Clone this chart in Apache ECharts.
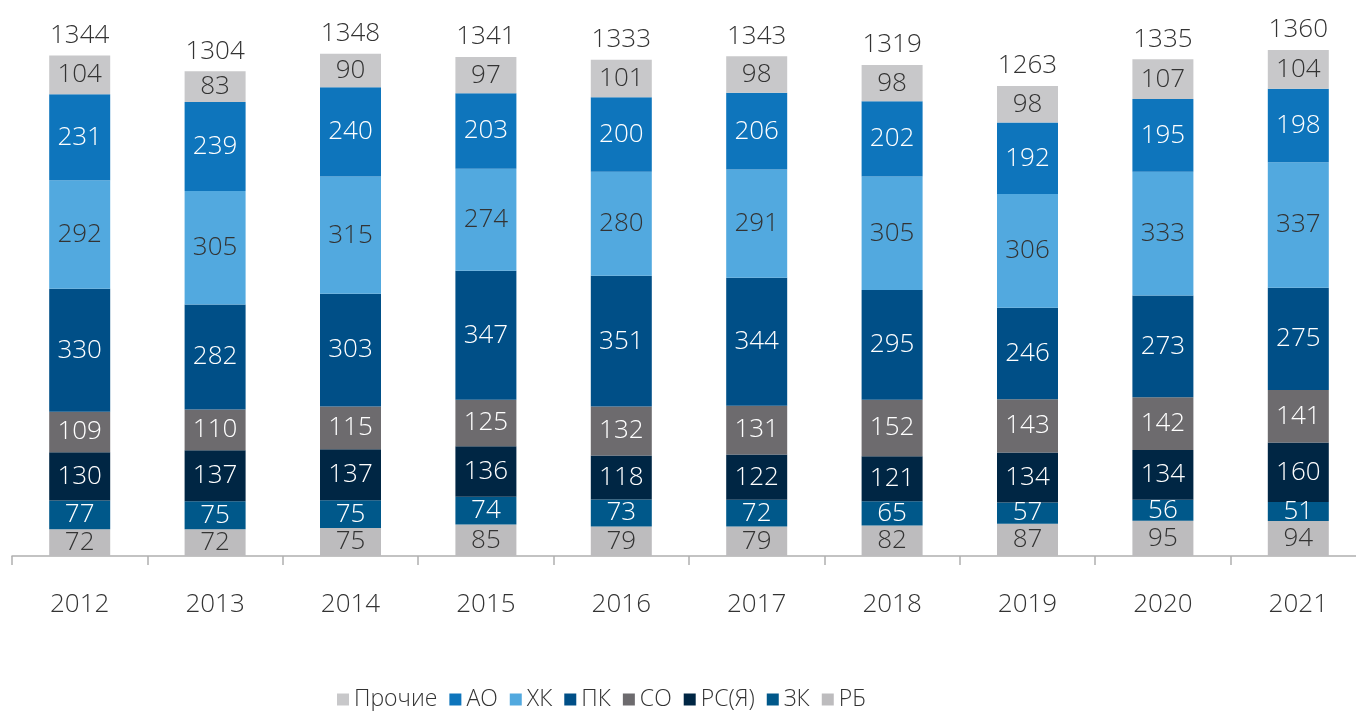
<!DOCTYPE html>
<html>
<head>
<meta charset="utf-8">
<script src="https://cdn.jsdelivr.net/npm/echarts@6/dist/echarts.min.js"></script>
<style>
  html, body { margin: 0; padding: 0; background: #fff; }
  #chart { width: 1356px; height: 711px; }
</style>
</head>
<body>
<div id="chart"></div>
<script>
const years = ["2012", "2013", "2014", "2015", "2016", "2017", "2018", "2019", "2020", "2021"];
const rb = [72, 72, 75, 85, 79, 79, 82, 87, 95, 94];
const zk = [77, 75, 75, 74, 73, 72, 65, 57, 56, 51];
const rsYa = [130, 137, 137, 136, 118, 122, 121, 134, 134, 160];
const so = [109, 110, 115, 125, 132, 131, 152, 143, 142, 141];
const pk = [330, 282, 303, 347, 351, 344, 295, 246, 273, 275];
const hk = [292, 305, 315, 274, 280, 291, 305, 306, 333, 337];
const ao = [231, 239, 240, 203, 200, 206, 202, 192, 195, 198];
const other = [104, 83, 90, 97, 101, 98, 98, 98, 107, 104];
const totals = [1344, 1304, 1348, 1341, 1333, 1343, 1319, 1263, 1335, 1360];

const font = "'Open Sans', 'Noto Sans', sans-serif";

// bottom to top
const seriesDefs = [
  { name: "РБ", data: rb, color: "#bdbcbe", text: "#333333" },
  { name: "ЗК", data: zk, color: "#00588a", text: "#ffffff" },
  { name: "РС(Я)", data: rsYa, color: "#002644", text: "#ffffff" },
  { name: "СО", data: so, color: "#6d6b6e", text: "#ffffff" },
  { name: "ПК", data: pk, color: "#004f87", text: "#ffffff" },
  { name: "ХК", data: hk, color: "#52a9df", text: "#333333" },
  { name: "АО", data: ao, color: "#0e75bc", text: "#ffffff" },
  { name: "Прочие", data: other, color: "#c8c8ca", text: "#333333" }
];

const series = seriesDefs.map(function (s) {
  return {
    name: s.name,
    type: "bar",
    stack: "total",
    barWidth: 61,
    data: s.data,
    itemStyle: { color: s.color },
    label: {
      show: true,
      position: "inside",
      color: s.text,
      fontFamily: font,
      fontWeight: 300,
      fontSize: 26
    },
    emphasis: { disabled: true }
  };
});

// totals above the bars
series.push({
  name: "total",
  type: "bar",
  stack: "total",
  barWidth: 61,
  data: years.map(function () { return 0; }),
  itemStyle: { color: "transparent" },
  label: {
    show: true,
    position: "top",
    distance: 7,
    color: "#333333",
    fontFamily: font,
    fontWeight: 300,
    fontSize: 26,
    formatter: function (p) { return totals[p.dataIndex]; }
  },
  emphasis: { disabled: true }
});

const chart = echarts.init(document.getElementById("chart"));
chart.setOption({
  animation: false,
  grid: { left: 12, width: 1354, top: 50, bottom: 155, containLabel: false, outerBoundsMode: "none" },
  legend: {
    data: ["Прочие", "АО", "ХК", "ПК", "СО", "РС(Я)", "ЗК", "РБ"],
    left: 332,
    top: 683,
    icon: "rect",
    itemWidth: 12,
    itemHeight: 12,
    itemGap: 12,
    textStyle: { fontFamily: font, fontWeight: 300, fontSize: 23, color: "#333333" }
  },
  xAxis: {
    type: "category",
    data: years,
    axisLine: { lineStyle: { color: "#b0b0b0", width: 1.5 } },
    axisTick: { show: true, length: 9, lineStyle: { color: "#b0b0b0", width: 1.5 } },
    axisLabel: { margin: 36, fontFamily: font, fontWeight: 300, fontSize: 26, color: "#333333" }
  },
  yAxis: {
    type: "value",
    min: 0,
    max: 1360,
    show: false
  },
  series: series
});
</script>
</body>
</html>
